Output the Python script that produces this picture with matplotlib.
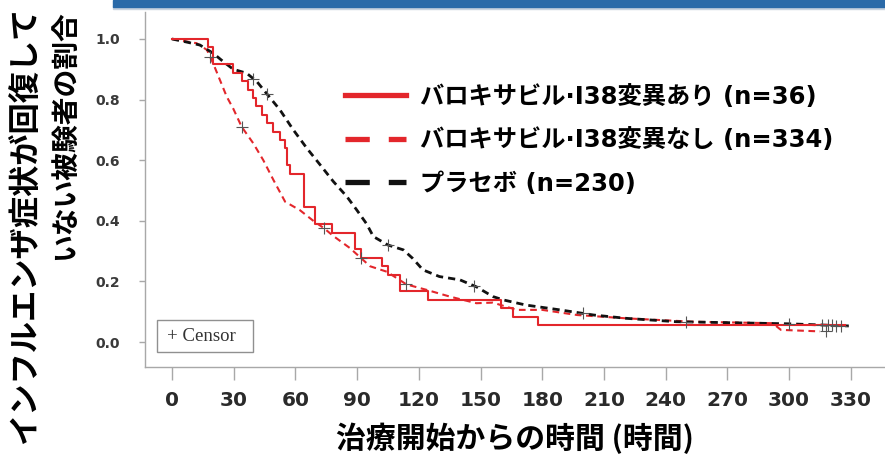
import numpy as np
import matplotlib
matplotlib.use("Agg")
import matplotlib.pyplot as plt
from matplotlib.patches import Rectangle
from matplotlib.lines import Line2D

plt.rcParams['font.family'] = ['Noto Sans CJK JP', 'DejaVu Sans']

# Kaplan-Meier curves: time (hours) vs proportion not yet recovered
t_iso = [0, 17.7, 20, 29.8, 33.9, 37, 39.5, 41, 43.6, 46, 49, 52.5, 55, 55.8, 57.4,
         64, 69.5, 77.6, 89, 92, 102, 105, 111, 124.5, 160, 166, 178, 327]
s_iso = [1.0, 0.972, 0.917, 0.889, 0.861, 0.833, 0.806, 0.778, 0.75, 0.722, 0.694,
         0.667, 0.639, 0.583, 0.556, 0.444, 0.389, 0.361, 0.306, 0.278, 0.25, 0.222,
         0.167, 0.139, 0.111, 0.083, 0.056, 0.056]

t_noi = [0, 12, 17, 20, 23.3, 26.6, 29.8, 33.9, 39.5, 44.4, 49.3, 55, 62.2, 68.7, 74,
         78.4, 86.5, 96.3, 104.4, 114, 123.8, 135, 148, 156, 167.6, 180, 197, 221, 253,
         292, 296, 315]
s_noi = [1.0, 0.986, 0.964, 0.92, 0.865, 0.81, 0.77, 0.71, 0.656, 0.60, 0.535, 0.463,
         0.435, 0.40, 0.375, 0.35, 0.31, 0.25, 0.232, 0.19, 0.172, 0.15, 0.128, 0.13,
         0.106, 0.106, 0.089, 0.078, 0.067, 0.062, 0.04, 0.035]

t_pbo = [0, 7, 13.6, 20, 25, 29.8, 36.3, 41.2, 46, 52.5, 59, 65.5, 72, 78.4, 85, 89.8,
         94.6, 97.9, 105, 112.5, 117, 122, 130, 140, 148, 156, 161, 172, 188.6, 205, 221,
         245, 300, 329]
s_pbo = [1.0, 0.99, 0.98, 0.953, 0.925, 0.90, 0.887, 0.86, 0.82, 0.766, 0.70, 0.64,
         0.585, 0.53, 0.48, 0.436, 0.39, 0.348, 0.32, 0.304, 0.276, 0.238, 0.216, 0.205,
         0.182, 0.15, 0.139, 0.122, 0.106, 0.089, 0.078, 0.067, 0.06, 0.053]

# censoring times per group
cens_iso = [92]
cens_noi = [18.5, 34, 74, 114, 318]
cens_pbo = [39.5, 46, 105, 147, 200, 250, 300, 316, 319, 321, 323, 325]

labels = ['バロキサビル·I38変異あり (n=36)',
          'バロキサビル·I38変異なし (n=334)',
          'プラセボ (n=230)']
x_ticks = list(range(0, 331, 30))
y_ticks = [0.0, 0.2, 0.4, 0.6, 0.8, 1.0]

RED = '#e3262b'
MIXED = ['DejaVu Sans', 'Noto Sans CJK JP']
fig = plt.figure(figsize=(8.85, 4.55), dpi=100)
W, H = 885, 455

# header band
fig.patches.append(Rectangle((113 / W, 1 - 9 / H), 1, 3 / H, transform=fig.transFigure,
                             color='#c9d3df', zorder=0))
fig.patches.append(Rectangle((113 / W, 1 - 7 / H), 1, 7 / H, transform=fig.transFigure,
                             color='#2a6aa8', zorder=1))

ax = fig.add_axes([145 / W, 1 - 367 / H, 1 - 145 / W, (367 - 12) / H])
ax.set_xlim(-13.1, 346.6)
ax.set_ylim(-0.0825, 1.089)

ax.step(t_iso, s_iso, where='post', color=RED, lw=1.5, zorder=4)
ax.plot(t_noi, s_noi, color=RED, lw=1.5, dashes=(3.2, 2.2), zorder=3)
ax.plot(t_pbo, s_pbo, color='#111111', lw=2.0, dashes=(2.6, 1.8), zorder=3)

def _step_at(t_arr, s_arr, t):
    idx = np.searchsorted(t_arr, t, side='right') - 1
    return np.asarray(s_arr)[idx]

mk = dict(ls='none', marker='+', ms=9, mew=0.8, color='#555555', zorder=5)
ax.plot(cens_iso, [_step_at(t_iso, s_iso, c) for c in cens_iso], **mk)
ax.plot(cens_noi, np.interp(cens_noi, t_noi, s_noi), **mk)
ax.plot(cens_pbo, np.interp(cens_pbo, t_pbo, s_pbo), **mk)

for side in ('top', 'right'):
    ax.spines[side].set_visible(False)
for side in ('left', 'bottom'):
    ax.spines[side].set_color('#a8a8a8')
    ax.spines[side].set_linewidth(1.0)

ax.set_xticks(x_ticks)
ax.set_xticklabels([str(v) for v in x_ticks],
                   fontdict=dict(family=['DejaVu Sans'], weight='bold', size=14.5,
                                 color='#2a2a2a'))
ax.set_yticks(y_ticks)
ax.set_yticklabels([f'{v:.1f}' for v in y_ticks],
                   fontdict=dict(family=['DejaVu Sans'], weight='bold', size=10,
                                 color='#3a3a3a'))
ax.tick_params(axis='x', length=9, width=1, color='#a8a8a8', pad=8)
ax.tick_params(axis='y', length=4, width=1, color='#a8a8a8', pad=14)

ax.set_xlabel('治療開始からの時間 (時間)', fontsize=21.5, fontweight='bold', labelpad=9)

fig.text(25 / W, 1 - 7 / H, 'インフルエンザ症状が回復して', rotation=90, ha='center', va='top',
         fontsize=22.5, fontweight='bold')
fig.text(65 / W, 1 - 10 / H, 'いない被験者の割合', rotation=90, ha='center', va='top',
         fontsize=20, fontweight='bold')

handles = [Line2D([], [], color=RED, lw=3.8),
           Line2D([], [], color=RED, lw=3.8, dashes=(4.6, 3.6)),
           Line2D([], [], color='#111111', lw=3.8, dashes=(4.6, 3.6))]
ax.legend(handles, labels, loc='upper left', bbox_to_anchor=((345 - 145) / (W - 145), 0.795),
          frameon=False, prop=dict(family=MIXED, weight='bold', size=17.5),
          handlelength=2.5, handletextpad=0.6, labelspacing=0.8, borderaxespad=0,
          borderpad=0)

# censor key box
ax.add_patch(Rectangle((0.0162, 0.0423), 0.1297, 0.0901, transform=ax.transAxes,
                       fc='white', ec='#909090', lw=1.0, zorder=6))
ax.text(0.0297, 0.0873, '+ Censor', transform=ax.transAxes, ha='left', va='center',
        family='Liberation Serif', fontsize=13.5, color='#333333', zorder=7)

fig.savefig('out.png', dpi=100)
